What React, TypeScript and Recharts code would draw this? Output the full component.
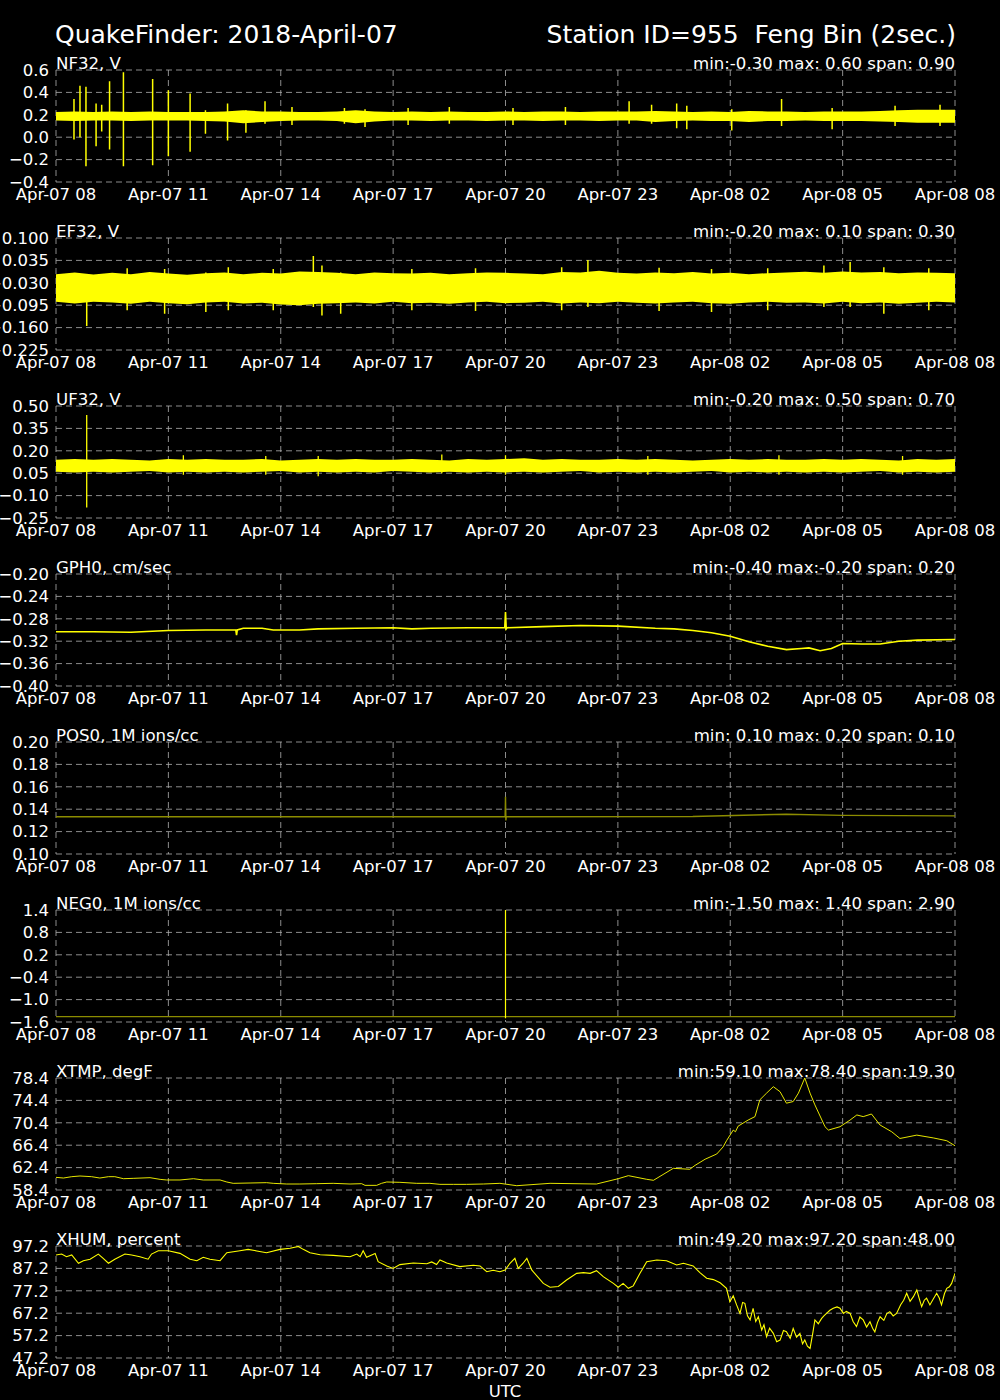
import React from "react";
import {
  Area,
  CartesianGrid,
  ComposedChart,
  Line,
  ReferenceArea,
  XAxis,
  YAxis,
} from "recharts";

const FONT = "'DejaVu Sans', Verdana, sans-serif";
const YELLOW = "#ffff00";
const DIM_YELLOW = "#8c8c00";
const GRID = "#b0b0b0";
const TEXT = "#ffffff";

const PANEL_TOP = 70;
const PANEL_STEP = 168;

// x axis, hours since Apr-07 08:00 UTC
const HOUR_TICKS = [0, 3, 6, 9, 12, 15, 18, 21, 24];
const HOUR_LABELS = [
  "Apr-07 08", "Apr-07 11", "Apr-07 14", "Apr-07 17", "Apr-07 20",
  "Apr-07 23", "Apr-08 02", "Apr-08 05", "Apr-08 08",
];

const BAND_HOURS = [
  0, 0.5, 1, 1.5, 2, 2.5, 3, 3.5, 4, 4.5, 5, 5.5, 6, 6.5, 7, 7.5, 8, 8.5, 9, 9.5,
  10, 10.5, 11, 11.5, 12, 12.5, 13, 13.5, 14, 14.5, 15, 15.5, 16, 16.5, 17, 17.5,
  18, 18.5, 19, 19.5, 20, 20.5, 21, 21.5, 22, 22.5, 23, 23.5, 24,
];

// NF32 noise band + spikes
const NF32_HI = [
  0.225, 0.23, 0.225, 0.23, 0.225, 0.23, 0.225, 0.225, 0.225, 0.23, 0.24, 0.23, 0.23, 0.225, 0.225, 0.23,
  0.24, 0.23, 0.225, 0.23, 0.225, 0.23, 0.225, 0.225, 0.23, 0.225, 0.23, 0.23, 0.225, 0.23, 0.23, 0.23,
  0.235, 0.23, 0.225, 0.23, 0.225, 0.235, 0.23, 0.23, 0.225, 0.23, 0.23, 0.23, 0.235, 0.24, 0.245, 0.245,
  0.245,
];
const NF32_LO = [
  0.15, 0.145, 0.15, 0.15, 0.145, 0.15, 0.15, 0.15, 0.145, 0.14, 0.125, 0.135, 0.145, 0.15, 0.15, 0.145,
  0.125, 0.14, 0.15, 0.15, 0.145, 0.15, 0.15, 0.145, 0.15, 0.15, 0.145, 0.15, 0.15, 0.145, 0.15, 0.15,
  0.135, 0.145, 0.15, 0.145, 0.145, 0.135, 0.145, 0.145, 0.15, 0.145, 0.145, 0.145, 0.14, 0.135, 0.13,
  0.13, 0.13,
];
const NF32_BASE = 0.18;
const NF32_SPIKE_T = [
  0.48, 0.64, 0.8, 1.07, 1.22, 1.43, 1.8, 2.58, 3.0, 3.58, 3.99, 4.58, 5.07, 5.58, 6.3, 7.7, 8.25,
  9.4, 10.5, 12.2, 13.6, 15.3, 15.9, 16.57, 16.84, 18.04, 19.37, 20.72, 22.4, 23.6,
];
const NF32_SPIKE_TOP = [
  0.34, 0.46, 0.45, 0.3, 0.29, 0.5, 0.58, 0.52, 0.42, 0.39, 0.24, 0.3, 0.24, 0.32, 0.27, 0.26, 0.25,
  0.26, 0.27, 0.26, 0.27, 0.32, 0.29, 0.3, 0.28, 0.25, 0.34, 0.26, 0.28, 0.29,
];
const NF32_SPIKE_BOTTOM = [
  -0.02, 0.0, -0.26, -0.08, 0.05, -0.11, -0.26, -0.25, -0.17, -0.13, 0.03, -0.03, 0.04, 0.12, 0.11,
  0.12, 0.09, 0.11, 0.12, 0.11, 0.11, 0.12, 0.12, 0.08, 0.07, 0.06, 0.1, 0.07, 0.1, 0.1,
];

// EF32 noise band + spikes
const EF32_HI = [
  -0.005, 0.0, -0.006, -0.001, -0.005, 0.001, -0.003, -0.007, -0.002, 0.0, -0.005, -0.001, -0.003, 0.003,
  0.001, -0.001, -0.005, 0.0, -0.002, -0.003, -0.001, -0.005, -0.002, 0.0, -0.001, -0.003, -0.005, 0.001,
  0.0, 0.005, -0.001, -0.003, 0.0, -0.002, 0.001, -0.003, -0.001, -0.005, -0.002, 0.0, 0.002, -0.001,
  0.003, 0.0, 0.001, -0.002, 0.0, -0.001, -0.002,
];
const EF32_LO = [
  -0.085, -0.09, -0.085, -0.087, -0.091, -0.085, -0.089, -0.092, -0.087, -0.085, -0.09, -0.088, -0.093,
  -0.095, -0.091, -0.089, -0.087, -0.09, -0.085, -0.089, -0.088, -0.091, -0.087, -0.085, -0.089, -0.088,
  -0.085, -0.09, -0.087, -0.089, -0.085, -0.088, -0.09, -0.087, -0.085, -0.089, -0.091, -0.087, -0.085,
  -0.088, -0.087, -0.09, -0.085, -0.089, -0.087, -0.091, -0.088, -0.085, -0.087,
];
const EF32_BASE = -0.045;
const EF32_SPIKE_T = [
  0.82, 1.9, 2.9, 4.0, 4.6, 5.8, 6.87, 7.1, 7.6, 9.5, 11.2, 13.5, 14.2, 16.1, 17.5, 19.0, 20.5, 21.2, 22.1, 23.3,
];
const EF32_SPIKE_TOP = [
  -0.01, 0.012, 0.01, 0.0, 0.015, 0.01, 0.048, 0.02, 0.0, 0.01, 0.012, 0.015, 0.036, 0.014, 0.01, 0.012,
  0.02, 0.03, 0.015, 0.012,
];
const EF32_SPIKE_BOTTOM = [
  -0.155, -0.11, -0.12, -0.115, -0.11, -0.11, -0.1, -0.125, -0.12, -0.11, -0.112, -0.11, -0.1, -0.112,
  -0.115, -0.11, -0.1, -0.1, -0.12, -0.11,
];

// UF32 noise band + spikes
const UF32_HI = [
  0.14, 0.145, 0.14, 0.145, 0.14, 0.135, 0.145, 0.14, 0.145, 0.14, 0.14, 0.145, 0.135, 0.14, 0.145, 0.14,
  0.145, 0.14, 0.14, 0.145, 0.14, 0.135, 0.145, 0.14, 0.145, 0.15, 0.14, 0.145, 0.14, 0.14, 0.145, 0.14,
  0.145, 0.14, 0.135, 0.14, 0.145, 0.14, 0.145, 0.14, 0.14, 0.145, 0.14, 0.145, 0.14, 0.135, 0.145, 0.14,
  0.145,
];
const UF32_LO = [
  0.06, 0.055, 0.06, 0.055, 0.06, 0.065, 0.055, 0.06, 0.055, 0.06, 0.055, 0.06, 0.065, 0.055, 0.06, 0.055,
  0.06, 0.055, 0.065, 0.06, 0.055, 0.06, 0.055, 0.06, 0.055, 0.06, 0.055, 0.06, 0.065, 0.055, 0.06, 0.055,
  0.06, 0.055, 0.06, 0.065, 0.055, 0.06, 0.055, 0.06, 0.055, 0.06, 0.055, 0.06, 0.065, 0.055, 0.06, 0.055,
  0.06,
];
const UF32_BASE = 0.1;
const UF32_SPIKE_T = [0.82, 3.4, 5.6, 7.0, 10.3, 12.0, 15.8, 19.3, 22.6];
const UF32_SPIKE_TOP = [0.44, 0.17, 0.165, 0.165, 0.175, 0.17, 0.165, 0.17, 0.165];
const UF32_SPIKE_BOTTOM = [-0.18, 0.04, 0.04, 0.03, 0.05, 0.04, 0.04, 0.04, 0.04];

// GPH0
const GPH0_T = [
  0, 1, 2, 3, 4, 4.8, 4.82, 4.84, 5, 5.5, 5.8, 6.5, 7, 8, 9, 9.5, 10, 11, 11.98, 12, 12.02, 12.04, 13, 14,
  15, 16, 16.5, 17, 17.5, 18, 18.5, 19, 19.5, 19.9, 20.1, 20.4, 20.7, 21, 21.5, 22, 22.5, 23, 24,
];
const GPH0_V = [
  -0.303, -0.303, -0.304, -0.301, -0.3, -0.3, -0.309, -0.3, -0.297, -0.297, -0.3, -0.3, -0.298, -0.297,
  -0.296, -0.298, -0.297, -0.296, -0.296, -0.268, -0.298, -0.296, -0.294, -0.292, -0.293, -0.297, -0.298,
  -0.301, -0.305, -0.311, -0.321, -0.329, -0.335, -0.333, -0.332, -0.337, -0.333, -0.324, -0.325, -0.325,
  -0.32, -0.318, -0.317,
];

// POS0
const POS0_T = [0, 6, 11.99, 12, 12.01, 12.02, 17, 19.5, 21, 24];
const POS0_V = [0.1333, 0.1333, 0.1333, 0.151, 0.13, 0.1333, 0.1335, 0.1355, 0.1345, 0.134];

// NEG0
const NEG0_T = [0, 6, 11.99, 12.01, 18, 24];
const NEG0_V = [-1.457, -1.457, -1.457, -1.457, -1.457, -1.457];
const NEG0_SPIKE_T = [12, 12, 12];
const NEG0_SPIKE_V = [-1.457, 1.4, -1.5];

// XTMP
const XTMP_T = [
  0, 0.2, 0.42, 0.64, 0.95, 1.17, 1.4, 1.57, 1.8, 2.06, 2.51, 2.78, 2.95, 3.31, 3.67, 3.93, 4.38, 4.56,
  4.73, 5.18, 5.62, 5.8, 6.16, 6.51, 6.96, 7.4, 7.85, 8.16, 8.25, 8.56, 8.69, 8.83, 9.18, 9.63, 9.98,
  10.25, 10.61, 10.96, 11.41, 11.85, 12.3, 13.19, 14.43, 15.01, 15.28, 15.77, 15.95, 16.48, 16.92, 17.06,
  17.33, 17.64, 17.81, 17.9, 18.08, 18.14, 18.21, 18.48, 18.66, 18.79, 18.97, 19.15, 19.33, 19.5, 19.68,
  19.82, 19.99, 20.13, 20.26, 20.53, 20.62, 20.93, 21.2, 21.38, 21.55, 21.77, 22.0, 22.31, 22.53, 22.98,
  23.42, 23.78, 24,
];
const XTMP_V = [
  60.66, 60.54, 60.78, 60.9, 60.78, 60.54, 60.78, 60.78, 60.42, 60.48, 60.6, 60.3, 60.19, 60.19, 60.42,
  60.19, 60.19, 59.83, 59.59, 59.65, 59.71, 59.59, 59.47, 59.47, 59.53, 59.59, 59.47, 59.53, 59.23, 59.23,
  59.59, 59.83, 59.77, 59.59, 59.59, 59.41, 59.41, 59.41, 59.47, 59.59, 59.17, 59.59, 59.47, 60.42, 60.96,
  60.31, 60.13, 62.27, 62.1, 62.8, 63.9, 64.83, 66.1, 67.2, 69.1, 68.8, 69.8, 70.9, 71.5, 74.5, 75.7,
  76.85, 75.95, 73.9, 74.2, 75.7, 78.4, 75.7, 73.6, 69.7, 69.1, 69.7, 70.9, 71.8, 71.5, 71.97, 70.0, 68.8,
  67.6, 68.2, 67.7, 67.2, 66.3,
];

// XHUM
const XHUM_T = [
  0, 0.15, 0.28, 0.42, 0.6, 0.73, 0.91, 1.13, 1.26, 1.4, 1.57, 1.84, 2.02, 2.24, 2.46, 2.55, 2.73, 3.0,
  3.31, 3.58, 3.76, 3.93, 4.11, 4.38, 4.56, 4.91, 5.13, 5.36, 5.62, 5.98, 6.25, 6.47, 6.6, 6.78, 7.05, 7.4,
  7.85, 8.03, 8.12, 8.2, 8.29, 8.52, 8.6, 8.83, 9.0, 9.18, 9.54, 9.9, 10.03, 10.16, 10.25, 10.43, 10.78,
  11.14, 11.32, 11.5, 11.67, 11.85, 11.99, 12.12, 12.25, 12.34, 12.47, 12.57, 12.7, 13.01, 13.19, 13.41,
  13.63, 13.9, 14.08, 14.26, 14.43, 14.61, 14.88, 15.01, 15.14, 15.28, 15.41, 15.59, 15.77, 16.04, 16.3,
  16.57, 16.75, 17.01, 17.19, 17.37, 17.55, 17.73, 17.9, 17.99, 18.08, 18.17, 18.26, 18.33, 18.39, 18.46,
  18.53, 18.61, 18.68, 18.75, 18.84, 18.9, 18.97, 19.05, 19.15, 19.24, 19.33, 19.42, 19.5, 19.6, 19.68,
  19.77, 19.86, 19.93, 19.99, 20.06, 20.13, 20.2, 20.26, 20.35, 20.44, 20.5, 20.57, 20.66, 20.75, 20.85,
  20.93, 21.02, 21.1, 21.2, 21.28, 21.37, 21.46, 21.55, 21.64, 21.73, 21.8, 21.86, 21.93, 22.0, 22.1,
  22.18, 22.26, 22.35, 22.44, 22.55, 22.63, 22.71, 22.8, 22.89, 22.98, 23.04, 23.11, 23.18, 23.24, 23.33,
  23.42, 23.51, 23.58, 23.64, 23.72, 23.78, 23.85, 23.91, 24,
];
const XHUM_V = [
  93.2, 93.6, 92.4, 93.2, 89.5, 90.65, 91.3, 93.6, 91.7, 89.5, 91.3, 93.6, 93.2, 92.4, 91.3, 93.6, 95.1,
  95.1, 93.9, 91.3, 90.65, 92.15, 91.3, 90.65, 94.2, 95.1, 95.7, 95.0, 94.2, 95.7, 96.2, 97.0, 95.7, 94.2,
  93.3, 93.0, 92.4, 93.6, 92.4, 95.1, 92.15, 93.9, 90.2, 88.3, 87.2, 88.9, 89.6, 89.3, 90.1, 88.9, 91.0,
  89.6, 88.0, 88.6, 88.3, 85.7, 86.4, 85.7, 86.5, 89.5, 91.7, 87.2, 89.5, 91.7, 86.5, 80.5, 78.8, 79.1,
  82.0, 85.0, 85.3, 85.0, 86.2, 83.5, 80.5, 78.8, 80.5, 78.3, 79.4, 85.0, 90.2, 90.95, 90.65, 88.7, 89.5,
  88.3, 85.3, 82.8, 82.2, 80.8, 78.3, 72.3, 75.0, 70.9, 67.1, 72.0, 71.6, 66.0, 64.2, 69.4, 63.5, 65.6,
  59.7, 62.0, 56.7, 60.5, 58.2, 54.5, 55.2, 59.5, 58.9, 56.0, 60.4, 56.5, 58.2, 53.5, 55.2, 52.5, 51.5,
  58.0, 64.2, 62.5, 64.9, 66.0, 67.1, 68.5, 69.4, 70.0, 69.4, 67.1, 68.0, 67.1, 63.5, 61.2, 65.5, 64.2,
  61.0, 63.4, 60.5, 58.9, 63.0, 65.6, 64.0, 67.0, 67.9, 66.0, 67.1, 71.0, 73.0, 76.1, 72.5, 74.6, 77.6,
  74.0, 70.1, 73.0, 73.9, 70.9, 73.5, 76.1, 74.0, 70.9, 76.0, 78.3, 79.0, 80.5, 85.0,
];

type Row = { t: number; v?: number; band?: [number, number] };

const series = (ts: number[], vs: number[]): Row[] => ts.map((t, i) => ({ t, v: vs[i] }));
const band = (lo: number[], hi: number[]): Row[] =>
  BAND_HOURS.map((t, i) => ({ t, band: [lo[i], hi[i]] }));
const spikes = (ts: number[], tops: number[], bottoms: number[], base: number): Row[] =>
  ts.flatMap((t, i) => [
    { t, v: base },
    { t, v: tops[i] },
    { t, v: bottoms[i] },
    { t, v: base },
  ]);

const tickStyle = { fill: TEXT, fontSize: 16.5, fontFamily: FONT };

interface PanelProps {
  index: number;
  domain: [number, number];
  ticks: number[];
  tickLabels: string[];
  children: React.ReactNode;
}

function Panel({ index, domain, ticks, tickLabels, children }: PanelProps) {
  const top = PANEL_TOP + index * PANEL_STEP;
  return (
    <div style={{ position: "absolute", left: 0, top: top - 20 }}>
      <ComposedChart width={1000} height={162} margin={{ top: 20, right: 45, bottom: 0, left: 0 }}>
        <CartesianGrid stroke={GRID} strokeDasharray="6 4" strokeWidth={0.8} />
        <XAxis
          dataKey="t"
          type="number"
          domain={[0, 24]}
          ticks={HOUR_TICKS}
          interval={0}
          allowDataOverflow
          tickFormatter={(v) => HOUR_LABELS[HOUR_TICKS.indexOf(v)]}
          tick={tickStyle}
          tickLine={false}
          axisLine={false}
          tickSize={4}
          tickMargin={2}
          height={30}
        />
        <YAxis
          type="number"
          domain={domain}
          ticks={ticks}
          interval={0}
          allowDataOverflow
          tickFormatter={(v) => tickLabels[ticks.indexOf(v)]}
          tick={tickStyle}
          tickLine={false}
          axisLine={false}
          tickSize={5}
          tickMargin={2}
          width={56}
        />
        {children}
        <ReferenceArea fill="none" fillOpacity={0} stroke="#ffffff" strokeWidth={1.3} ifOverflow="visible" />
      </ComposedChart>
    </div>
  );
}

const PANEL_NAMES = [
  "NF32, V", "EF32, V", "UF32, V", "GPH0, cm/sec", "POS0, 1M ions/cc",
  "NEG0, 1M ions/cc", "XTMP, degF", "XHUM, percent",
];
const PANEL_STATS = [
  "min:-0.30 max: 0.60 span: 0.90",
  "min:-0.20 max: 0.10 span: 0.30",
  "min:-0.20 max: 0.50 span: 0.70",
  "min:-0.40 max:-0.20 span: 0.20",
  "min: 0.10 max: 0.20 span: 0.10",
  "min:-1.50 max: 1.40 span: 2.90",
  "min:59.10 max:78.40 span:19.30",
  "min:49.20 max:97.20 span:48.00",
];

function Texts() {
  return (
    <svg
      width={1000}
      height={1400}
      style={{ position: "absolute", left: 0, top: 0, pointerEvents: "none" }}
      fontFamily={FONT}
      fill={TEXT}
    >
      <text x={55} y={43} fontSize={25} style={{ whiteSpace: "pre" }}>
        QuakeFinder: 2018-April-07
      </text>
      <text x={956} y={43} fontSize={25} textAnchor="end" style={{ whiteSpace: "pre" }}>
        {"Station ID=955  Feng Bin (2sec.)"}
      </text>
      {PANEL_NAMES.map((name, i) => (
        <text key={name} x={56} y={PANEL_TOP + i * PANEL_STEP - 1} fontSize={16.6}>
          {name}
        </text>
      ))}
      {PANEL_STATS.map((s, i) => (
        <text
          key={s}
          x={955}
          y={PANEL_TOP + i * PANEL_STEP - 1.5}
          fontSize={16.6}
          textAnchor="end"
          style={{ whiteSpace: "pre" }}
        >
          {s}
        </text>
      ))}
      <text x={505} y={1397} fontSize={16.5} textAnchor="middle">
        UTC
      </text>
    </svg>
  );
}

const lineProps = {
  type: "linear" as const,
  dataKey: "v",
  dot: false,
  activeDot: false,
  isAnimationActive: false,
};

export default function App() {
  return (
    <div
      style={{
        position: "absolute",
        left: 0,
        top: 0,
        width: 1000,
        height: 1400,
        background: "#000",
        overflow: "hidden",
      }}
    >
      <Panel
        index={0}
        domain={[-0.4, 0.6]}
        ticks={[-0.4, -0.2, 0, 0.2, 0.4, 0.6]}
        tickLabels={["−0.4", "−0.2", "0.0", "0.2", "0.4", "0.6"]}
      >
        <Area data={band(NF32_LO, NF32_HI)} dataKey="band" type="linear" stroke="none" fill={YELLOW} fillOpacity={1} isAnimationActive={false} />
        <Line {...lineProps} data={spikes(NF32_SPIKE_T, NF32_SPIKE_TOP, NF32_SPIKE_BOTTOM, NF32_BASE)} stroke={YELLOW} strokeWidth={1.5} />
      </Panel>
      <Panel
        index={1}
        domain={[-0.225, 0.1]}
        ticks={[-0.225, -0.16, -0.095, -0.03, 0.035, 0.1]}
        tickLabels={["−0.225", "−0.160", "−0.095", "−0.030", "0.035", "0.100"]}
      >
        <Area data={band(EF32_LO, EF32_HI)} dataKey="band" type="linear" stroke="none" fill={YELLOW} fillOpacity={1} isAnimationActive={false} />
        <Line {...lineProps} data={spikes(EF32_SPIKE_T, EF32_SPIKE_TOP, EF32_SPIKE_BOTTOM, EF32_BASE)} stroke={YELLOW} strokeWidth={1.5} />
      </Panel>
      <Panel
        index={2}
        domain={[-0.25, 0.5]}
        ticks={[-0.25, -0.1, 0.05, 0.2, 0.35, 0.5]}
        tickLabels={["−0.25", "−0.10", "0.05", "0.20", "0.35", "0.50"]}
      >
        <Area data={band(UF32_LO, UF32_HI)} dataKey="band" type="linear" stroke="none" fill={YELLOW} fillOpacity={1} isAnimationActive={false} />
        <Line {...lineProps} data={spikes(UF32_SPIKE_T, UF32_SPIKE_TOP, UF32_SPIKE_BOTTOM, UF32_BASE)} stroke={YELLOW} strokeWidth={1.3} />
      </Panel>
      <Panel
        index={3}
        domain={[-0.4, -0.2]}
        ticks={[-0.4, -0.36, -0.32, -0.28, -0.24, -0.2]}
        tickLabels={["−0.40", "−0.36", "−0.32", "−0.28", "−0.24", "−0.20"]}
      >
        <Line {...lineProps} data={series(GPH0_T, GPH0_V)} stroke={YELLOW} strokeWidth={1.6} />
      </Panel>
      <Panel
        index={4}
        domain={[0.1, 0.2]}
        ticks={[0.1, 0.12, 0.14, 0.16, 0.18, 0.2]}
        tickLabels={["0.10", "0.12", "0.14", "0.16", "0.18", "0.20"]}
      >
        <Line {...lineProps} data={series(POS0_T, POS0_V)} stroke={DIM_YELLOW} strokeWidth={1.4} />
      </Panel>
      <Panel
        index={5}
        domain={[-1.6, 1.4]}
        ticks={[-1.6, -1.0, -0.4, 0.2, 0.8, 1.4]}
        tickLabels={["−1.6", "−1.0", "−0.4", "0.2", "0.8", "1.4"]}
      >
        <Line {...lineProps} data={series(NEG0_T, NEG0_V)} stroke={DIM_YELLOW} strokeWidth={1.4} />
        <Line {...lineProps} data={series(NEG0_SPIKE_T, NEG0_SPIKE_V)} stroke={YELLOW} strokeWidth={1.2} />
      </Panel>
      <Panel
        index={6}
        domain={[58.4, 78.4]}
        ticks={[58.4, 62.4, 66.4, 70.4, 74.4, 78.4]}
        tickLabels={["58.4", "62.4", "66.4", "70.4", "74.4", "78.4"]}
      >
        <Line {...lineProps} data={series(XTMP_T, XTMP_V)} stroke={YELLOW} strokeWidth={0.9} />
      </Panel>
      <Panel
        index={7}
        domain={[47.2, 97.2]}
        ticks={[47.2, 57.2, 67.2, 77.2, 87.2, 97.2]}
        tickLabels={["47.2", "57.2", "67.2", "77.2", "87.2", "97.2"]}
      >
        <Line {...lineProps} data={series(XHUM_T, XHUM_V)} stroke={YELLOW} strokeWidth={1.1} />
      </Panel>
      <Texts />
    </div>
  );
}
